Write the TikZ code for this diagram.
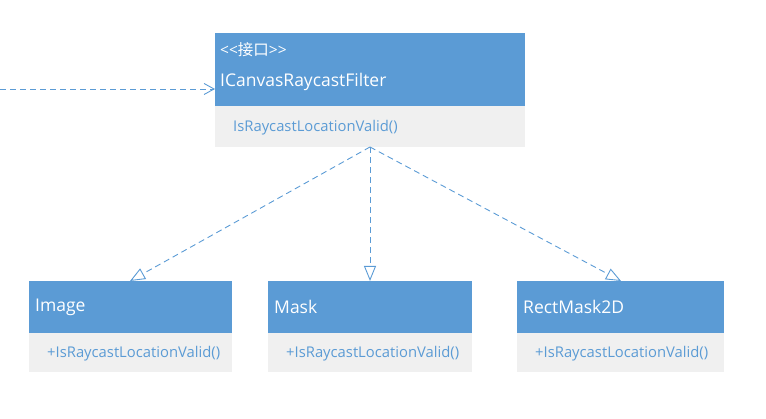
\documentclass[tikz,border=0pt]{standalone}
\usepackage{fontspec}
\setmainfont{Open Sans}
\newfontfamily\cjk{Noto Sans CJK SC}
\usetikzlibrary{arrows.meta}
\definecolor{hdr}{HTML}{5B9BD5}
\definecolor{bdy}{HTML}{F0F0F0}
\definecolor{ln}{HTML}{5B9BD5}
\begin{document}
\begin{tikzpicture}[x=1pt,y=-1pt,
  title/.style={anchor=west,text=white,inner sep=0pt,font=\fontsize{17.5}{20}\selectfont},
  member/.style={anchor=west,text=hdr,inner sep=0pt,font=\fontsize{14.8}{17}\selectfont},
  dep/.style={draw=ln,dash pattern=on 6pt off 4pt,line width=0.9pt},
  real/.style={dep,-{Triangle[open,length=15pt,width=12pt,line width=0.9pt]}},
  use/.style={dep,-{Straight Barb[length=10pt,width=11pt,line width=0.9pt]}}]
\useasboundingbox (0,0) rectangle (766,419);
% interface
\fill[hdr] (215,33) rectangle (525,106);
\fill[bdy] (215,106) rectangle (525,147);
\node[title,font=\fontsize{15.5}{18}\selectfont] (st) at (220,50) {{<}{<}{\cjk 接口}{>}{>}};
\node[title] (ic) at (220,82) {ICanvasRaycastFilter};
\node[member] (im) at (233,128) {IsRaycastLocationValid()};
\coordinate (ibot) at (370,147);
\coordinate (ileft) at (215,89);
\coordinate (src) at (0,89);
% Image
\fill[hdr] (29,281) rectangle (232,333);
\fill[bdy] (29,333) rectangle (232,372);
\node[title] (a) at (35,307) {Image};
\node[member] (am) at (47,354) {+IsRaycastLocationValid()};
\coordinate (atop) at (130,281);
% Mask
\fill[hdr] (268,281) rectangle (472,333);
\fill[bdy] (268,333) rectangle (472,372);
\node[title] (b) at (274,307) {Mask};
\node[member] (bm) at (286,354) {+IsRaycastLocationValid()};
\coordinate (btop) at (370,281);
% RectMask2D
\fill[hdr] (517,281) rectangle (724,333);
\fill[bdy] (517,333) rectangle (724,372);
\node[title] (c) at (523,307) {RectMask2D};
\node[member] (cm) at (535,354) {+IsRaycastLocationValid()};
\coordinate (ctop) at (621,281);
% connectors
\draw[use] (src) -- (ileft);
\draw[real] (ibot) -- (atop);
\draw[real] (ibot) -- (btop);
\draw[real] (ibot) -- (ctop);
\end{tikzpicture}
\end{document}
